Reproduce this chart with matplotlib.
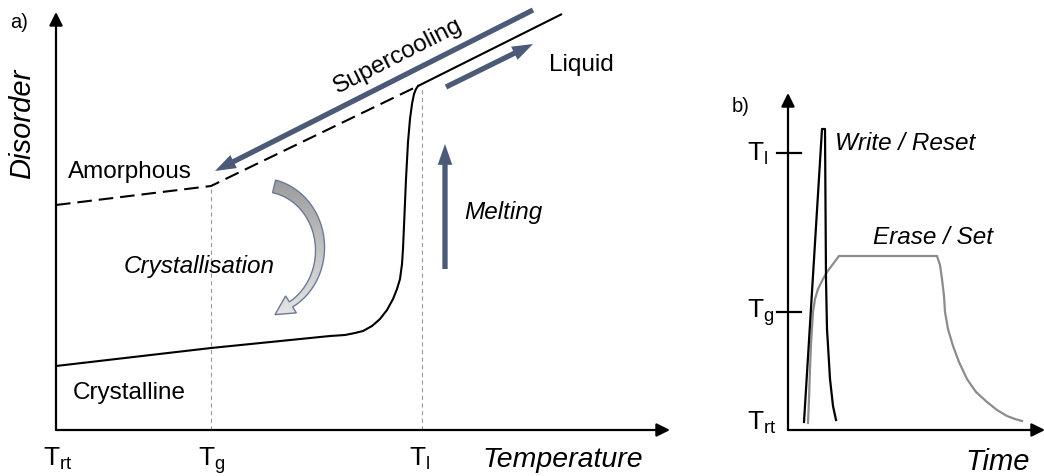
import numpy as np
import matplotlib
matplotlib.use("Agg")
import matplotlib.pyplot as plt
from matplotlib.patches import FancyArrowPatch, Polygon
from matplotlib.colors import LinearSegmentedColormap

plt.rcParams['font.family'] = ['Liberation Sans', 'DejaVu Sans']
plt.rcParams['mathtext.fontset'] = 'custom'
plt.rcParams['mathtext.rm'] = 'Liberation Sans'
plt.rcParams['lines.scale_dashes'] = False

# ---------------- data (schematic units) ----------------
# panel a: temperature (x) vs disorder (y)
temp_ticks = [0, 155, 366]
temp_tick_labels = [r'$\mathregular{T_{rt}}$', r'$\mathregular{T_g}$', r'$\mathregular{T_l}$']
amorphous_x = [0, 155, 362]
amorphous_y = [225, 244, 344]
liquid_x = [362, 506]
liquid_y = [344, 416]
crystal_x = [0, 155, 274, 289, 299, 307, 316, 324, 331, 337, 341, 344, 346, 347, 348, 350, 352, 354, 356, 358, 360, 362]
crystal_y = [64, 82, 94, 95, 97, 99, 104, 111, 120, 131, 141, 151, 166, 181, 204, 251, 288, 311, 326, 336, 341, 344]
tg_line_top = 244
tl_line_top = 344

# panel b: time (x) vs temperature (y)
b_ticks = [8, 118, 277]
b_tick_labels = [r'$\mathregular{T_{rt}}$', r'$\mathregular{T_g}$', r'$\mathregular{T_l}$']
b_tick_marks = [118, 277]
write_t = [16, 34, 37, 38, 39, 42, 45, 48]
write_T = [8, 301, 301, 151, 101, 51, 24, 10]
erase_t = [20, 21, 22, 23, 25, 27, 30, 35, 39, 45, 51, 149, 152, 154, 156, 157, 160, 165, 171, 179, 188, 199, 209, 219, 227, 234]
erase_T = [7, 31, 61, 86, 118, 131, 141, 151, 158, 166, 174, 174, 165, 151, 134, 118, 101, 84, 68, 51, 38, 28, 20, 14, 11, 9]

W, H = 1044, 477
fig = plt.figure(figsize=(W / 100, H / 100), dpi=100)


def px_axes(left, bottom_from_top, width, height):
    return fig.add_axes([left / W, (H - bottom_from_top) / H, width / W, height / H])


ARROW_BLUE = '#4b5b77'
FS = 17.5

# ---------------- panel a ----------------
ax = px_axes(56, 431, 614, 416)
ax.set_xlim(0, 614)
ax.set_ylim(0, 416)
ax.axis('off')

axprops = dict(arrowstyle='-|>', lw=1.6, color='k', mutation_scale=20, shrinkA=0, shrinkB=0)
ax.annotate('', xy=(614, 0), xytext=(0, 0), arrowprops=axprops, annotation_clip=False)
ax.annotate('', xy=(0, 418), xytext=(0, 0), arrowprops=axprops, annotation_clip=False)

ax.plot([temp_ticks[1]] * 2, [0, tg_line_top], color='#999999', lw=0.8, dashes=(3, 2.5))
ax.plot([temp_ticks[2]] * 2, [0, tl_line_top], color='#999999', lw=0.8, dashes=(3, 2.5))

ax.plot(amorphous_x, amorphous_y, color='k', lw=1.5, dashes=(10.5, 5), clip_on=False)
ax.plot(liquid_x, liquid_y, color='k', lw=1.5, clip_on=False, solid_capstyle='butt')
ax.plot(crystal_x, crystal_y, color='k', lw=1.5, clip_on=False, solid_joinstyle='round')


def block_arrow(axx, tail, tip):
    p = FancyArrowPatch(tail, tip, arrowstyle='simple,head_length=1.5,head_width=1.05,tail_width=0.38',
                        mutation_scale=10, color=ARROW_BLUE, lw=0, shrinkA=0, shrinkB=0, clip_on=False)
    axx.add_patch(p)


block_arrow(ax, (477, 420), (159, 259))
block_arrow(ax, (390, 343), (477, 386))
block_arrow(ax, (389, 161), (389, 286))

# curved crystallisation arrow (geometry)
cx, cy, rx, ry = 206, 181, 58, 64
phi = np.radians(np.linspace(-78, 60, 60))
cxs = cx + rx * np.cos(phi)
cys = cy - ry * np.sin(phi)
tx = -rx * np.sin(phi)
ty = -ry * np.cos(phi)
tn = np.hypot(tx, ty)
tx, ty = tx / tn, ty / tn
nx, ny = -ty, tx
w = np.linspace(13, 6, len(phi))
left = np.column_stack([cxs + nx * w / 2, cys + ny * w / 2])
right = np.column_stack([cxs - nx * w / 2, cys - ny * w / 2])
ex, ey = cxs[-1], cys[-1]
ux, uy = tx[-1], ty[-1]
hnx, hny = nx[-1], ny[-1]
head = np.array([[ex + hnx * 10, ey + hny * 10],
                 [ex + ux * 19, ey + uy * 19],
                 [ex - hnx * 10, ey - hny * 10]])
poly_pts = np.vstack([left, head, right[::-1]])
poly = Polygon(poly_pts, closed=True, facecolor='none', edgecolor='#6b7a96', lw=1.0, zorder=3, clip_on=False)
ax.add_patch(poly)
cmap = LinearSegmentedColormap.from_list('g', ['#e4e4e4', '#c2c2c2', '#9c9c9c'])
grad = np.linspace(0, 1, 100).reshape(-1, 1)
xmin, ymin = poly_pts.min(axis=0)
xmax, ymax = poly_pts.max(axis=0)
im = ax.imshow(grad, extent=[xmin, xmax, ymin, ymax], origin='lower', cmap=cmap,
               aspect='auto', zorder=2, interpolation='bilinear')
clip = Polygon(poly_pts, closed=True, transform=ax.transData)
im.set_clip_path(clip)
ax.set_xlim(0, 614)
ax.set_ylim(0, 416)

for xv, lab in zip(temp_ticks, temp_tick_labels):
    ax.text(xv - 13, -35, lab, fontsize=19, ha='left', va='baseline')

ax.text(507, -29, 'Temperature', fontsize=20.5, style='italic', ha='center', va='center')
ax.text(-34, 307, 'Disorder', fontsize=21, style='italic', rotation=90, ha='center', va='center')
ax.text(-37, 408, 'a)', fontsize=14.5, ha='center', va='center')
ax.text(74, 259, 'Amorphous', fontsize=FS, ha='center', va='center')
ax.text(73, 38, 'Crystalline', fontsize=FS, ha='center', va='center')
ax.text(143, 165, 'Crystallisation', fontsize=FS, style='italic', ha='center', va='center')
ax.text(342, 375, 'Supercooling', fontsize=FS, rotation=27, ha='center', va='center', rotation_mode='anchor')
ax.text(525, 366, 'Liquid', fontsize=FS, ha='center', va='center')
ax.text(447, 219, 'Melting', fontsize=FS, style='italic', ha='center', va='center')

# ---------------- panel b ----------------
bx = px_axes(788, 431, 256, 336)
bx.set_xlim(0, 256)
bx.set_ylim(0, 336)
bx.axis('off')
bx.annotate('', xy=(257, 0), xytext=(0, 0), arrowprops=axprops, annotation_clip=False)
bx.annotate('', xy=(0, 337), xytext=(0, 0), arrowprops=axprops, annotation_clip=False)
for yv in b_tick_marks:
    bx.plot([-11, 13], [yv, yv], color='k', lw=1.6, clip_on=False)
for yv, lab in zip(b_ticks, b_tick_labels):
    bx.text(-41, yv, lab, fontsize=19, ha='left', va='center')

bx.plot(erase_t, erase_T, color='#8c8c8c', lw=1.6, clip_on=False, solid_joinstyle='round')
bx.plot(write_t, write_T, color='k', lw=1.6, clip_on=False, solid_joinstyle='round')

bx.text(117, 288, 'Write / Reset', fontsize=FS, style='italic', ha='center', va='center')
bx.text(145, 193, 'Erase / Set', fontsize=FS, style='italic', ha='center', va='center')
bx.text(210, -31, 'Time', fontsize=21, style='italic', ha='center', va='center')
bx.text(-47, 324, 'b)', fontsize=14.5, ha='center', va='center')

fig.savefig('out.png', dpi=100)
